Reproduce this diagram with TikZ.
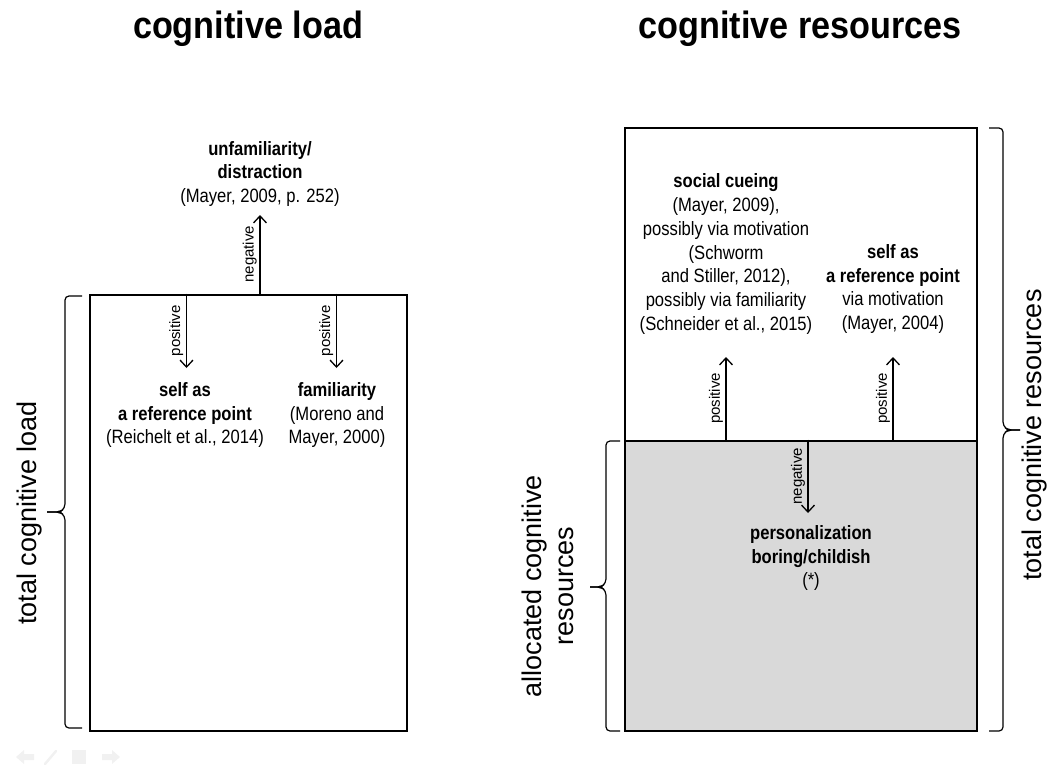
\documentclass[tikz,border=0pt]{standalone}
\usepackage{fontspec}
\setmainfont{Liberation Sans}[FakeStretch=0.86]
\newfontfamily\headfont{Liberation Sans}[FakeStretch=0.9]
\newfontfamily\sidefont{Liberation Sans}
\usetikzlibrary{arrows.meta}
\definecolor{shade}{HTML}{D9D9D9}
\definecolor{navgray}{HTML}{F1F1F1}
\begin{document}
\begin{tikzpicture}[x=1pt,y=-1pt,
  heading/.style={font=\headfont\bfseries\fontsize{38}{44}\selectfont, inner sep=0},
  body/.style={font=\fontsize{19.3}{23.7}\selectfont, align=center, inner sep=0},
  side/.style={font=\sidefont\fontsize{27}{32}\selectfont, align=center, rotate=90, inner sep=0},
  tag/.style={font=\sidefont\fontsize{15}{16}\selectfont, rotate=90, anchor=south, inner sep=2.5pt},
  panel/.style={draw, line width=2.8pt, inner sep=0},
  link/.style={line width=1.3pt, -{Straight Barb[length=7pt,width=13pt]}},
  bracket/.style={line width=1.2pt, rounded corners=4pt},
  nav/.style={fill=navgray, draw=none}
]
\useasboundingbox (0,0) rectangle (1056,769);

% headings
\node[heading, anchor=base] (hl) at (248,38) {cognitive load};
\node[heading, anchor=base] (hr) at (800,38) {cognitive resources};

% panels
\node[panel, minimum width=317pt, minimum height=436pt] (load) at (248.5,513) {};
\node[panel, minimum width=352pt, minimum height=313pt] (free) at (801,284.5) {};
\node[panel, fill=shade, minimum width=352pt, minimum height=290pt] (alloc) at (801,586) {};

% texts
\node[body] (unfam) at (260,174) {\textbf{unfamiliarity/}\\\textbf{distraction}\\(Mayer, 2009, p. 252)};
\node[body] (selfL) at (185,415) {\textbf{self as}\\\textbf{a reference point}\\(Reichelt et al., 2014)};
\node[body] (fam) at (337,415) {\textbf{familiarity}\\(Moreno and\\Mayer, 2000)};
\node[body] (social) at (726,254) {\textbf{social cueing}\\(Mayer, 2009),\\possibly via motivation\\(Schworm\\and Stiller, 2012),\\possibly via familiarity\\(Schneider et al., 2015)};
\node[body] (selfR) at (893,289) {\textbf{self as}\\\textbf{a reference point}\\via motivation\\(Mayer, 2004)};
\node[body] (pers) at (811,558) {\textbf{personalization}\\\textbf{boring/childish}\\(*)};

% arrow tips
\coordinate (tU) at (260,215);
\coordinate (tA) at (186.5,368);
\coordinate (tB) at (336.5,368);
\coordinate (tC) at (726,357);
\coordinate (tD) at (893,357);
\coordinate (tE) at (808,513);

% connectors
\draw[link] (load.north -| tU) -- (tU) node[tag, midway] {negative};
\draw[link] (load.north -| tA) -- (tA) node[tag, midway] {positive};
\draw[link] (load.north -| tB) -- (tB) node[tag, midway] {positive};
\draw[link] (alloc.north -| tC) -- (tC) node[tag, midway] {positive};
\draw[link] (alloc.north -| tD) -- (tD) node[tag, midway] {positive};
\draw[link] (alloc.north -| tE) -- (tE) node[tag, midway] {negative};

% braces and their labels
\draw[bracket] (82,296) -- (65,296) -- (65,508) -- (60,512) -- (47,512);
\draw[bracket] (47,512) -- (60,512) -- (65,516) -- (65,728) -- (82,728);
\node[side] (tl) at (30,513) {total cognitive load};

\draw[bracket] (989,128) -- (1003,128) -- (1003,426) -- (1008,430) -- (1020,430);
\draw[bracket] (1020,430) -- (1008,430) -- (1003,434) -- (1003,731) -- (989,731);
\node[side] (tr) at (1035,435) {total cognitive resources};

\draw[bracket] (620,441) -- (606,441) -- (606,583) -- (601,587) -- (590,587);
\draw[bracket] (590,587) -- (601,587) -- (606,591) -- (606,731) -- (620,731);
\node[side] (ar) at (548,586) {allocated cognitive\\resources};

% navigation symbols
\fill[nav] (16,757) -- (24,750) -- (24,754) -- (34,754) -- (34,760) -- (24,760) -- (24,764) -- cycle;
\draw[navgray, line width=2.5pt, line cap=round] (45,764) -- (56,751);
\fill[nav] (72,750) rectangle (86,764);
\fill[nav] (120,757) -- (112,750) -- (112,754) -- (102,754) -- (102,760) -- (112,760) -- (112,764) -- cycle;
\end{tikzpicture}
\end{document}
